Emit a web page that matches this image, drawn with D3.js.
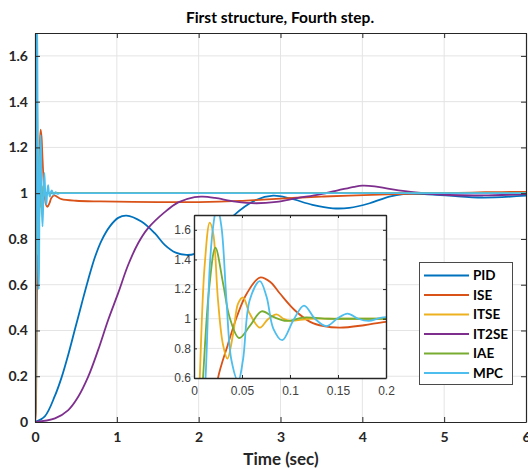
<!DOCTYPE html>
<html>
<head>
<meta charset="utf-8">
<script src="https://cdn.jsdelivr.net/npm/d3@7"></script>
<style>
  body { margin: 0; background: #fff; }
</style>
</head>
<body>
<div id="chart"></div>
<script>
// each series: [time (sec), output]
const seriesNames = ["PID", "ISE", "ITSE", "IT2SE", "IAE", "MPC"];
const seriesColors = ["#0072BD", "#D95319", "#EDB120", "#7E2F8E", "#77AC30", "#4DBEEE"];

const pid = [[0,0],[0.12,0.025],[0.244,0.115],[0.325,0.195],[0.407,0.295],[0.488,0.405],[0.569,0.515],
  [0.65,0.622],[0.732,0.72],[0.813,0.793],[0.915,0.855],[1.016,0.892],[1.118,0.902],[1.3,0.876],
  [1.463,0.825],[1.585,0.774],[1.72,0.74],[1.85,0.73],[1.95,0.735],[2.1,0.77],[2.25,0.83],[2.42,0.9],
  [2.7,0.97],[2.91,0.989],[3.11,0.978],[3.39,0.949],[3.64,0.934],[3.84,0.936],[4.09,0.956],[4.33,0.985],
  [4.5,0.996],[4.8,0.995],[5.06,0.989],[5.47,0.981],[6,0.989]];

const ise = [[0,0],[0.01,0.04],[0.015,0.15],[0.02,0.35],[0.025,0.6],[0.035,0.82],[0.045,1.02],[0.055,1.17],
  [0.0686,1.278],[0.08,1.245],[0.0895,1.17],[0.105,1.057],[0.121,0.979],[0.135,0.95],[0.152,0.94],
  [0.177,0.956],[0.2,0.979],[0.236,0.99],[0.28,0.982],[0.325,0.974],[0.5,0.967],[0.8,0.964],[1.5,0.961],
  [2,0.961],[2.5,0.966],[2.79,0.972],[3.2,0.98],[3.5,0.985],[3.84,0.989],[4.3,0.995],[5,1],[5.5,1.004],[6,1.006]];

const itse = [[0,0],[0.002,0.05],[0.004,0.25],[0.006,0.6],[0.011,1.35],[0.0164,1.648],[0.02,1.576],
  [0.025,1.125],[0.03,0.832],[0.0348,0.731],[0.0408,0.9],[0.046,1.103],[0.0512,1.143],[0.058,1.035],
  [0.0686,0.94],[0.077,0.997],[0.086,1.03],[0.093,1.0],[0.1,0.985],[0.12,1.0],[0.15,1.0],[0.3,1.0],
  [1,1.0],[3,1.0],[6,1.0]];

const it2se = [[0,0],[0.244,0.016],[0.407,0.052],[0.528,0.11],[0.65,0.198],[0.772,0.315],[0.894,0.446],
  [1.016,0.563],[1.138,0.686],[1.26,0.781],[1.382,0.847],[1.585,0.917],[1.75,0.96],[1.95,0.983],
  [2.05,0.985],[2.2,0.979],[2.45,0.963],[2.7,0.956],[2.95,0.962],[3.2,0.978],[3.48,0.995],[3.7,1.012],
  [3.9,1.028],[4,1.033],[4.15,1.03],[4.33,1.019],[4.65,1.003],[5.06,0.992],[5.47,0.99],[6,0.996]];

const iae = [[0,0],[0.003,0.05],[0.006,0.25],[0.0094,0.6],[0.0157,1.2],[0.0223,1.479],[0.0303,1.238],
  [0.037,1.012],[0.047,0.87],[0.058,0.95],[0.0704,1.05],[0.0826,1.012],[0.0965,0.985],[0.114,1.008],
  [0.14,1.0],[0.16,1.0],[0.3,1.0],[1,1.0],[3,1.0],[6,1.0]];

const mpc = [[0,0],[0.004,0.05],[0.008,0.25],[0.012,0.6],[0.0164,1.35],[0.0199,1.62],[0.024,1.76],
  [0.0286,1.62],[0.0338,1.125],[0.039,0.72],[0.046,0.58],[0.051,0.72],[0.058,1.125],[0.0686,1.254],
  [0.0756,1.148],[0.0826,0.934],[0.092,0.855],[0.1035,0.99],[0.1146,1.089],[0.126,1.0],[0.138,0.95],
  [0.149,1.0],[0.16,1.035],[0.171,1.0],[0.182,0.985],[0.194,1.005],[0.206,1.012],[0.229,0.993],
  [0.252,1.005],[0.275,0.997],[0.3,1.0],[0.4,1.0],[1,1.0],[3,1.0],[6,1.0]];

const allSeries = [pid, ise, itse, it2se, iae, mpc];

const mainXTicks = [0, 1, 2, 3, 4, 5, 6];
const mainYTicks = [0, 0.2, 0.4, 0.6, 0.8, 1, 1.2, 1.4, 1.6];
const insetXTicks = [0, 0.05, 0.1, 0.15, 0.2];
const insetYTicks = [0.6, 0.8, 1, 1.2, 1.4, 1.6];

//**********************************************************************
//                         CONSTANTS FOR CHART SIZE
//**********************************************************************
const WIDTH = 528;
const HEIGHT = 469;
const MAIN_BOX = {left: 35, top: 33, right: 526, bottom: 422};
const INSET_BOX = {left: 194, top: 215, right: 386, bottom: 378};
const GRID_COLOR = "#e4e4e4";
const AXIS_COLOR = "#262626";
const LINE_WIDTH = 1.8;

const svg = d3.select("#chart").append("svg")
  .attr("width", WIDTH)
  .attr("height", HEIGHT)
  .style("font-family", "Lato, 'Noto Sans', sans-serif");

function drawPanel(id, box, xDomain, yDomain, xTicks, yTicks, o) {
  const x = d3.scaleLinear().domain(xDomain).range([box.left, box.right]);
  const y = d3.scaleLinear().domain(yDomain).range([box.bottom, box.top]);
  const g = svg.append("g").attr("id", id);

  g.append("rect")
    .attr("x", box.left).attr("y", box.top)
    .attr("width", box.right - box.left).attr("height", box.bottom - box.top)
    .attr("fill", "#fff");

  // grid
  g.append("g").selectAll("line")
    .data(xTicks.filter(t => t !== xDomain[0] && t !== xDomain[1]))
    .join("line")
    .attr("x1", d => x(d)).attr("x2", d => x(d))
    .attr("y1", box.top).attr("y2", box.bottom)
    .attr("stroke", GRID_COLOR);
  g.append("g").selectAll("line")
    .data(yTicks.filter(t => t !== yDomain[0]))
    .join("line")
    .attr("y1", d => y(d)).attr("y2", d => y(d))
    .attr("x1", box.left).attr("x2", box.right)
    .attr("stroke", GRID_COLOR);

  g.append("clipPath").attr("id", id + "-clip")
    .append("rect")
    .attr("x", box.left).attr("y", box.top)
    .attr("width", box.right - box.left).attr("height", box.bottom - box.top);

  const line = d3.line()
    .x(d => x(d[0]))
    .y(d => y(d[1]))
    .curve(d3.curveCatmullRom.alpha(0.5));

  g.append("g").attr("clip-path", `url(#${id}-clip)`)
    .selectAll("path")
    .data(allSeries)
    .join("path")
    .attr("d", line)
    .attr("fill", "none")
    .attr("stroke", (d, i) => seriesColors[i])
    .attr("stroke-width", LINE_WIDTH);

  const fmt = d => String(+d.toFixed(2));

  const bottom = g.append("g")
    .attr("transform", `translate(0,${box.bottom})`)
    .call(d3.axisBottom(x).tickValues(xTicks).tickSize(-o.tick).tickSizeOuter(0)
      .tickPadding(o.xPad).tickFormat(fmt));
  const left = g.append("g")
    .attr("transform", `translate(${box.left},0)`)
    .call(d3.axisLeft(y).tickValues(yTicks).tickSize(-o.tick).tickSizeOuter(0)
      .tickPadding(o.yPad).tickFormat(fmt));
  g.append("g")
    .attr("transform", `translate(0,${box.top})`)
    .call(d3.axisTop(x).tickValues(xTicks).tickSize(-o.tick).tickSizeOuter(0).tickFormat(""));
  g.append("g")
    .attr("transform", `translate(${box.right},0)`)
    .call(d3.axisRight(y).tickValues(yTicks).tickSize(-o.tick).tickSizeOuter(0).tickFormat(""));

  g.selectAll(".domain, .tick line").attr("stroke", AXIS_COLOR);
  g.selectAll(".domain").attr("stroke-width", o.border);

  [bottom, left].forEach(a => a.selectAll("text")
    .attr("fill", o.labelColor)
    .style("font-family", o.font)
    .style("font-size", o.fontSize + "px")
    .style("font-weight", o.weight));
  return g;
}

drawPanel("main", MAIN_BOX, [0, 6], [0, 1.7], mainXTicks, mainYTicks,
  {tick: 5, xPad: 10, yPad: 7, border: 1.2, labelColor: "#262626",
   font: "Lato, sans-serif", fontSize: 14, weight: 700});

drawPanel("inset", INSET_BOX, [0, 0.2], [0.6, 1.7], insetXTicks, insetYTicks,
  {tick: 3, xPad: 8, yPad: 3, border: 1.4, labelColor: "#404040",
   font: "'Liberation Sans', Arial, sans-serif", fontSize: 12, weight: 400});

// title and x label
svg.append("text")
  .attr("x", 280).attr("y", 23)
  .attr("text-anchor", "middle")
  .attr("font-weight", 700).attr("font-size", 15.5)
  .attr("fill", "#000")
  .text("First structure, Fourth step.");

svg.append("text")
  .attr("x", 281).attr("y", 465)
  .attr("text-anchor", "middle")
  .attr("font-weight", 700).attr("font-size", 17)
  .attr("fill", "#262626")
  .text("Time (sec)");

// legend
const legend = svg.append("g").attr("id", "legend");
legend.append("rect")
  .attr("x", 419.5).attr("y", 262.5)
  .attr("width", 93).attr("height", 122)
  .attr("fill", "#fff")
  .attr("stroke", "#4a4a4a");

const entries = legend.selectAll("g.entry")
  .data(seriesNames)
  .join("g")
  .attr("class", "entry")
  .attr("transform", (d, i) => `translate(0,${275.5 + i * 19.5})`);
entries.append("line")
  .attr("x1", 424).attr("x2", 469)
  .attr("stroke", (d, i) => seriesColors[i])
  .attr("stroke-width", LINE_WIDTH);
entries.append("text")
  .attr("x", 473).attr("y", 0)
  .attr("dy", "0.35em")
  .attr("font-weight", 700).attr("font-size", 13.5)
  .attr("fill", "#000")
  .text(d => d);
</script>
</body>
</html>
